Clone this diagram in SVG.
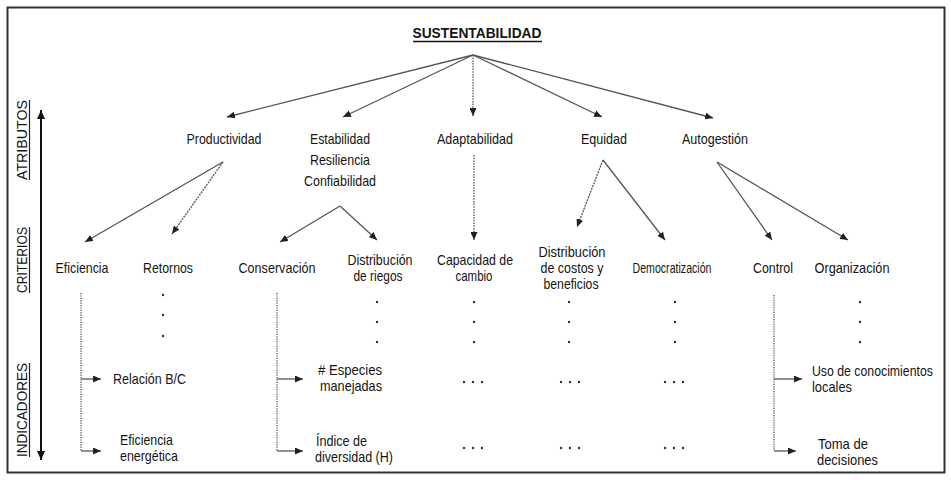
<svg xmlns="http://www.w3.org/2000/svg" width="951" height="480" viewBox="0 0 951 480">
  <defs>
    <style>
      text { font-family: "Liberation Sans Narrow", "Liberation Sans", "Arial Narrow", sans-serif; fill: #141414; font-size: 15px; }
      .c { text-anchor: middle; }
      .title { font-weight: bold; font-size: 15.5px; }
      .side { font-size: 15.5px; text-anchor: middle; }
      .edge { fill: none; stroke: #555; stroke-width: 1.3; marker-end: url(#head); }
      .dotted { fill: none; stroke: #555; stroke-width: 1.3; stroke-dasharray: 1.2 1.2; }
      .dot { fill: #333; }
    </style>
    <marker id="head" markerUnits="userSpaceOnUse" markerWidth="9" markerHeight="7" refX="8" refY="3.5" orient="auto">
      <path d="M0,0 L8,3.5 L0,7 z" fill="#222"/>
    </marker>
    <marker id="bighead" markerUnits="userSpaceOnUse" markerWidth="10" markerHeight="10" refX="9" refY="4" orient="auto-start-reverse">
      <path d="M0,0 L9,4 L0,8 z" fill="#111"/>
    </marker>
  </defs>

  <!-- outer frame -->
  <rect x="7.5" y="7.5" width="937" height="465" fill="#fff" stroke="#333" stroke-width="2"/>

  <!-- level axis on the left -->
  <g id="axis">
    <line x1="41" y1="110" x2="41" y2="460" stroke="#111" stroke-width="2" marker-start="url(#bighead)" marker-end="url(#bighead)"/>
    <text class="side" transform="translate(27,140) rotate(-90)" textLength="80" lengthAdjust="spacingAndGlyphs">ATRIBUTOS</text>
    <line x1="29.5" y1="100" x2="29.5" y2="180" stroke="#222" stroke-width="1.2"/>
    <text class="side" transform="translate(27,260) rotate(-90)" textLength="66" lengthAdjust="spacingAndGlyphs">CRITERIOS</text>
    <line x1="29.5" y1="227" x2="29.5" y2="293" stroke="#222" stroke-width="1.2"/>
    <text class="side" transform="translate(27,410) rotate(-90)" textLength="94" lengthAdjust="spacingAndGlyphs">INDICADORES</text>
    <line x1="29.5" y1="363" x2="29.5" y2="457" stroke="#222" stroke-width="1.2"/>
  </g>

  <!-- connectors -->
  <g id="connectors">
    <line class="edge" x1="473" y1="55" x2="227" y2="117"/>
    <line class="edge" x1="473" y1="55" x2="343" y2="117"/>
    <line class="edge" x1="473" y1="55" x2="473" y2="116" stroke-dasharray="1.5 1.2"/>
    <line class="edge" x1="473" y1="55" x2="602" y2="117"/>
    <line class="edge" x1="473" y1="55" x2="713" y2="118"/>

    <line class="edge" x1="223" y1="162" x2="85" y2="242"/>
    <line class="edge" x1="223" y1="162" x2="172" y2="234" stroke-dasharray="2 1"/>
    <line class="edge" x1="340" y1="206" x2="280" y2="242"/>
    <line class="edge" x1="340" y1="206" x2="377" y2="240"/>
    <line class="edge" x1="474" y1="155" x2="474" y2="240" stroke-dasharray="1.5 1.2"/>
    <line class="edge" x1="603" y1="160" x2="577" y2="227" stroke-dasharray="2 1"/>
    <line class="edge" x1="603" y1="160" x2="665" y2="240"/>
    <line class="edge" x1="717" y1="162" x2="772" y2="240"/>
    <line class="edge" x1="717" y1="162" x2="848" y2="240"/>

    <!-- indicator branches -->
    <line class="dotted" x1="81" y1="293" x2="81" y2="451"/>
    <line class="edge" x1="81" y1="379" x2="101" y2="379"/>
    <line class="edge" x1="81" y1="451" x2="101" y2="451"/>
    <line class="dotted" x1="277" y1="293" x2="277" y2="451"/>
    <line class="edge" x1="277" y1="379" x2="303" y2="379"/>
    <line class="edge" x1="277" y1="451" x2="303" y2="451"/>
    <line class="dotted" x1="774" y1="295" x2="774" y2="451"/>
    <line class="edge" x1="774" y1="379" x2="802" y2="379"/>
    <line class="edge" x1="774" y1="451" x2="796" y2="451"/>
  </g>

  <!-- continuation dots -->
  <g id="ellipses">
    <circle class="dot" cx="163" cy="295" r="1.2"/>
    <circle class="dot" cx="163" cy="315" r="1.2"/>
    <circle class="dot" cx="163" cy="336" r="1.2"/>
    <circle class="dot" cx="377" cy="302" r="1.2"/>
    <circle class="dot" cx="377" cy="322" r="1.2"/>
    <circle class="dot" cx="377" cy="342" r="1.2"/>
    <circle class="dot" cx="474" cy="302" r="1.2"/>
    <circle class="dot" cx="474" cy="322" r="1.2"/>
    <circle class="dot" cx="474" cy="342" r="1.2"/>
    <circle class="dot" cx="569" cy="302" r="1.2"/>
    <circle class="dot" cx="569" cy="322" r="1.2"/>
    <circle class="dot" cx="569" cy="342" r="1.2"/>
    <circle class="dot" cx="675" cy="302" r="1.2"/>
    <circle class="dot" cx="675" cy="322" r="1.2"/>
    <circle class="dot" cx="675" cy="342" r="1.2"/>
    <circle class="dot" cx="860" cy="302" r="1.2"/>
    <circle class="dot" cx="860" cy="322" r="1.2"/>
    <circle class="dot" cx="860" cy="342" r="1.2"/>
    <!-- horizontal ellipses -->
    <circle class="dot" cx="464" cy="382" r="1.2"/>
    <circle class="dot" cx="473" cy="382" r="1.2"/>
    <circle class="dot" cx="482" cy="382" r="1.2"/>
    <circle class="dot" cx="561" cy="382" r="1.2"/>
    <circle class="dot" cx="570" cy="382" r="1.2"/>
    <circle class="dot" cx="579" cy="382" r="1.2"/>
    <circle class="dot" cx="665" cy="382" r="1.2"/>
    <circle class="dot" cx="674" cy="382" r="1.2"/>
    <circle class="dot" cx="683" cy="382" r="1.2"/>
    <circle class="dot" cx="464" cy="448" r="1.2"/>
    <circle class="dot" cx="473" cy="448" r="1.2"/>
    <circle class="dot" cx="482" cy="448" r="1.2"/>
    <circle class="dot" cx="561" cy="448" r="1.2"/>
    <circle class="dot" cx="570" cy="448" r="1.2"/>
    <circle class="dot" cx="579" cy="448" r="1.2"/>
    <circle class="dot" cx="665" cy="448" r="1.2"/>
    <circle class="dot" cx="674" cy="448" r="1.2"/>
    <circle class="dot" cx="683" cy="448" r="1.2"/>
  </g>

  <!-- root -->
  <g id="sustentabilidad">
    <text class="title c" x="477" y="38" textLength="129" lengthAdjust="spacingAndGlyphs">SUSTENTABILIDAD</text>
    <line x1="413" y1="41.5" x2="542" y2="41.5" stroke="#141414" stroke-width="1.4"/>
  </g>

  <!-- attributes -->
  <g id="productividad"><text class="c" x="224" y="144" textLength="75" lengthAdjust="spacingAndGlyphs">Productividad</text></g>
  <g id="estabilidad">
    <text class="c" x="340" y="144" textLength="60" lengthAdjust="spacingAndGlyphs">Estabilidad</text>
    <text class="c" x="340" y="165" textLength="60" lengthAdjust="spacingAndGlyphs">Resiliencia</text>
    <text class="c" x="340" y="186" textLength="72" lengthAdjust="spacingAndGlyphs">Confiabilidad</text>
  </g>
  <g id="adaptabilidad"><text class="c" x="475" y="144" textLength="76" lengthAdjust="spacingAndGlyphs">Adaptabilidad</text></g>
  <g id="equidad"><text class="c" x="604" y="144" textLength="46" lengthAdjust="spacingAndGlyphs">Equidad</text></g>
  <g id="autogestion"><text class="c" x="715" y="144" textLength="66" lengthAdjust="spacingAndGlyphs">Autogestión</text></g>

  <!-- criteria -->
  <g id="eficiencia"><text class="c" x="82" y="273" textLength="53" lengthAdjust="spacingAndGlyphs">Eficiencia</text></g>
  <g id="retornos"><text class="c" x="168" y="273" textLength="50" lengthAdjust="spacingAndGlyphs">Retornos</text></g>
  <g id="conservacion"><text class="c" x="277" y="273" textLength="77" lengthAdjust="spacingAndGlyphs">Conservación</text></g>
  <g id="distribucion-riegos">
    <text class="c" x="380" y="265" textLength="65" lengthAdjust="spacingAndGlyphs">Distribución</text>
    <text class="c" x="378" y="281" textLength="49" lengthAdjust="spacingAndGlyphs">de riegos</text>
  </g>
  <g id="capacidad-cambio">
    <text class="c" x="475" y="265" textLength="76" lengthAdjust="spacingAndGlyphs">Capacidad de</text>
    <text class="c" x="474" y="281" textLength="37" lengthAdjust="spacingAndGlyphs">cambio</text>
  </g>
  <g id="distribucion-costos">
    <text class="c" x="572" y="257" textLength="67" lengthAdjust="spacingAndGlyphs">Distribución</text>
    <text class="c" x="572" y="273" textLength="63" lengthAdjust="spacingAndGlyphs">de costos y</text>
    <text class="c" x="571" y="289" textLength="55" lengthAdjust="spacingAndGlyphs">beneficios</text>
  </g>
  <g id="democratizacion"><text class="c" x="672" y="273" textLength="79" lengthAdjust="spacingAndGlyphs">Democratización</text></g>
  <g id="control"><text class="c" x="773" y="273" textLength="40" lengthAdjust="spacingAndGlyphs">Control</text></g>
  <g id="organizacion"><text class="c" x="852" y="273" textLength="75" lengthAdjust="spacingAndGlyphs">Organización</text></g>

  <!-- indicators -->
  <g id="relacion-bc"><text x="113" y="384" textLength="73" lengthAdjust="spacingAndGlyphs">Relación B/C</text></g>
  <g id="eficiencia-energetica">
    <text x="120" y="445" textLength="53" lengthAdjust="spacingAndGlyphs">Eficiencia</text>
    <text x="120" y="461" textLength="58" lengthAdjust="spacingAndGlyphs">energética</text>
  </g>
  <g id="especies-manejadas">
    <text x="318" y="375" textLength="64" lengthAdjust="spacingAndGlyphs"># Especies</text>
    <text x="320" y="391" textLength="62" lengthAdjust="spacingAndGlyphs">manejadas</text>
  </g>
  <g id="indice-diversidad">
    <text x="316" y="446" textLength="51" lengthAdjust="spacingAndGlyphs">Índice de</text>
    <text x="315" y="462" textLength="78" lengthAdjust="spacingAndGlyphs">diversidad (H)</text>
  </g>
  <g id="uso-conocimientos">
    <!-- narrowed with a horizontal scale so the line stays inside the frame -->
    <text transform="translate(812,376) scale(0.82,1)">Uso de conocimientos</text>
    <text x="812" y="392" textLength="40" lengthAdjust="spacingAndGlyphs">locales</text>
  </g>
  <g id="toma-decisiones">
    <text x="818" y="449" textLength="50" lengthAdjust="spacingAndGlyphs">Toma de</text>
    <text x="817" y="465" textLength="61" lengthAdjust="spacingAndGlyphs">decisiones</text>
  </g>
</svg>
